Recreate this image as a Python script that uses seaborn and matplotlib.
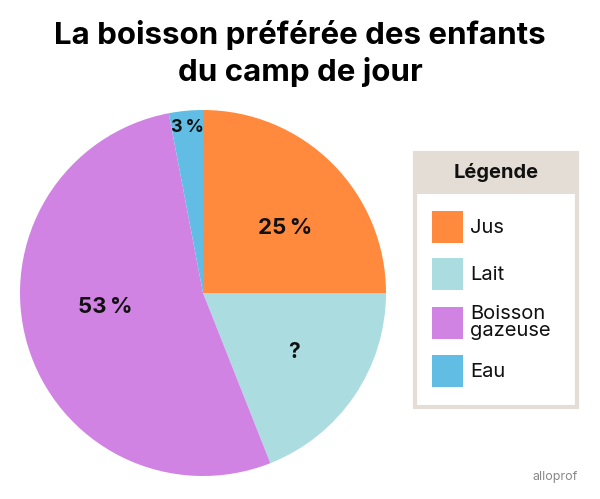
import matplotlib
matplotlib.use('Agg')
import matplotlib.pyplot as plt
from matplotlib.patches import Rectangle
import seaborn as sns

# Data
categories = ['Jus', 'Lait', 'Boisson\ngazeuse', 'Eau']
values = [25, 19, 53, 3]
value_labels = ['25\u2009%', '?', '53\u2009%', '3\u2009%']
colors = ['#FF8A3D', '#ABDCE0', '#D183E4', '#62BDE4']

sns.set_theme(style='white')
plt.rcParams['font.family'] = ['Inter', 'DejaVu Sans']

W, H = 600, 499
fig = plt.figure(figsize=(W / 100, H / 100), dpi=100)
fig.patch.set_facecolor('white')

# Pie: centre (203, 293) px, radius 183 px
cx, cy, r = 203, 293, 183
ax = fig.add_axes([(cx - r) / W, (H - cy - r) / H, 2 * r / W, 2 * r / H])
wedges, _ = ax.pie(values, colors=colors, startangle=90, counterclock=False,
                   wedgeprops=dict(linewidth=0))
ax.set_xlim(-1, 1)
ax.set_ylim(-1, 1)
ax.set_aspect('equal')
ax.axis('off')

# Value labels (baseline positions)
label_pos = [(0.448, 0.322), (0.497, -0.355), (-0.536, -0.109), (-0.087, 0.880)]
label_size = [16, 15, 16, 13]
for (x, y), txt, fs in zip(label_pos, value_labels, label_size):
    ax.text(x, y, txt, ha='center', va='baseline', fontsize=fs,
            fontweight='bold', color='#111111')

# Title
fig.text(0.5, 1 - 35 / H, 'La boisson préférée des enfants', ha='center', va='center',
         fontsize=22.5, fontweight='bold', color='black')
fig.text(0.5, 1 - 72 / H, 'du camp de jour', ha='center', va='center',
         fontsize=22.5, fontweight='bold', color='black')

# Legend box
bx0, by0, bx1, by1 = 415, 153, 577, 407
fig.patches.append(Rectangle((bx0 / W, 1 - by1 / H), (bx1 - bx0) / W, (by1 - by0) / H,
                             transform=fig.transFigure, facecolor='white',
                             edgecolor='#E4DDD5', linewidth=3, zorder=1))
fig.patches.append(Rectangle((bx0 / W, 1 - 194 / H), (bx1 - bx0) / W, (194 - by0) / H,
                             transform=fig.transFigure, facecolor='#E4DDD5',
                             edgecolor='none', zorder=2))
fig.text((bx0 + bx1) / 2 / W, 1 - 173 / H, 'Légende', ha='center', va='center',
         fontsize=14.5, fontweight='bold', color='#111111', zorder=3)

leg = fig.legend(wedges, categories, loc='upper left',
                 bbox_to_anchor=(416 / W, 1 - 195 / H), frameon=False,
                 fontsize=14.5, handlelength=1.55, handleheight=2.05,
                 labelspacing=0.76, handletextpad=0.35, borderpad=0.3)
for t in leg.get_texts():
    t.set_color('#111111')
    t.set_linespacing(0.9)
leg.set_zorder(4)

fig.text(555 / W, 1 - 477 / H, 'alloprof', ha='center', va='center',
         fontsize=9, color='#888888')

fig.savefig('out.png', dpi=100, facecolor='white')
